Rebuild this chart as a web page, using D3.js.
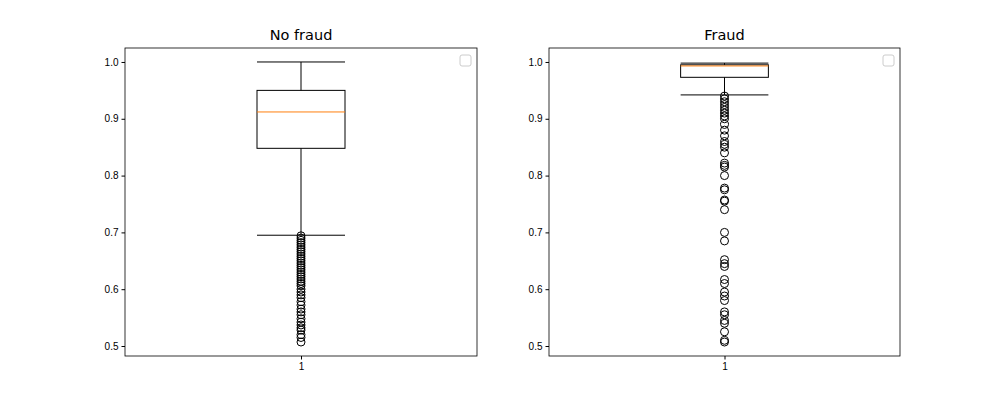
<!DOCTYPE html>
<head>
<meta charset='utf-8'>
<style>
  body { margin:0; background:#fff; font-family:'DejaVu Sans', sans-serif; }
  .tick text { font-size:10px; fill:#000; }
</style>
</head>
<body>
<div id='vis'></div>
<script src='https://cdn.jsdelivr.net/npm/d3@7/dist/d3.min.js'></script>
<script>
  const titles = ['No fraud', 'Fraud']
  // [whiskerLow, q1, median, q3, whiskerHigh]
  const stats = [
    [0.695, 0.848, 0.912, 0.95, 1.0],
    [0.942, 0.973, 0.993, 0.995, 0.998]
  ]
  const noFraudOutliers = [0.694,0.69,0.686,0.682,0.678,0.674,0.67,0.666,0.662,0.658,0.654,0.65,0.646,0.642,0.638,0.634,0.63,0.626,0.622,0.618,0.614,0.61,0.606,0.6,0.595,0.59,0.585,0.578,0.572,0.565,0.56,0.555,0.548,0.542,0.537,0.532,0.528,0.52,0.515,0.507]
  const fraudOutliers = [0.94,0.935,0.93,0.925,0.92,0.915,0.91,0.905,0.9,0.89,0.88,0.87,0.86,0.855,0.85,0.84,0.822,0.818,0.815,0.8,0.778,0.775,0.757,0.755,0.74,0.7,0.685,0.652,0.645,0.64,0.617,0.61,0.595,0.588,0.58,0.56,0.555,0.545,0.54,0.525,0.51,0.507]
  const outliers = [noFraudOutliers, fraudOutliers]
  const yTicks = [0.5, 0.6, 0.7, 0.8, 0.9, 1.0]

  const svg = d3.select('#vis').append('svg').attr('width', 1000).attr('height', 400)
  const panels = [{left:125, right:477}, {left:549, right:900}]
  const plotTop = 48, plotBottom = 356

  panels.forEach((p, i) => {
    const g = svg.append('g')
    const y = d3.scaleLinear().domain([0.4824, 1.0246]).range([plotBottom, plotTop])
    const x = d3.scaleLinear().domain([0.5, 1.5]).range([p.left, p.right])
    const cx = x(1), bw = (x(1.25) - x(0.75)) / 2, cap = bw / 2
    const s = stats[i]

    g.append('g').attr('transform', `translate(${p.left},0)`)
      .call(d3.axisLeft(y).tickValues(yTicks).tickFormat(d3.format('.1f')).tickSize(3.5))
      .call(a => a.select('.domain').remove())
    g.append('g').attr('transform', `translate(0,${plotBottom})`)
      .call(d3.axisBottom(x).tickValues([1]).tickFormat(d => d).tickSize(3.5))
      .call(a => a.select('.domain').remove())

    const ln = (x1, y1, x2, y2, c) => g.append('line').attr('x1', x1).attr('y1', y1)
      .attr('x2', x2).attr('y2', y2).attr('stroke', c || '#000').attr('stroke-width', 1)

    ln(cx, y(s[0]), cx, y(s[1]))
    ln(cx, y(s[3]), cx, y(s[4]))
    ln(cx - cap, y(s[0]), cx + cap, y(s[0]))
    ln(cx - cap, y(s[4]), cx + cap, y(s[4]))
    g.append('rect').attr('x', cx - bw / 2).attr('y', y(s[3]))
      .attr('width', bw).attr('height', y(s[1]) - y(s[3]))
      .attr('fill', 'none').attr('stroke', '#000')
    ln(cx - bw / 2, y(s[2]), cx + bw / 2, y(s[2]), '#ff7f0e')

    g.selectAll('circle').data(outliers[i]).join('circle')
      .attr('cx', cx).attr('cy', d => y(d)).attr('r', 4)
      .attr('fill', 'none').attr('stroke', '#000')

    g.append('rect').attr('x', p.left).attr('y', plotTop).attr('width', p.right - p.left)
      .attr('height', plotBottom - plotTop).attr('fill', 'none').attr('stroke', '#000').attr('stroke-width', 0.8)
    // empty legend
    g.append('rect').attr('x', p.right - 17).attr('y', 55).attr('width', 11).attr('height', 11)
      .attr('rx', 2).attr('fill', '#fff').attr('stroke', '#ccc')
    g.append('text').attr('x', (p.left + p.right) / 2).attr('y', plotTop - 8)
      .attr('text-anchor', 'middle').style('font-size', '14.5px').text(titles[i])
  })
</script>
</body>
